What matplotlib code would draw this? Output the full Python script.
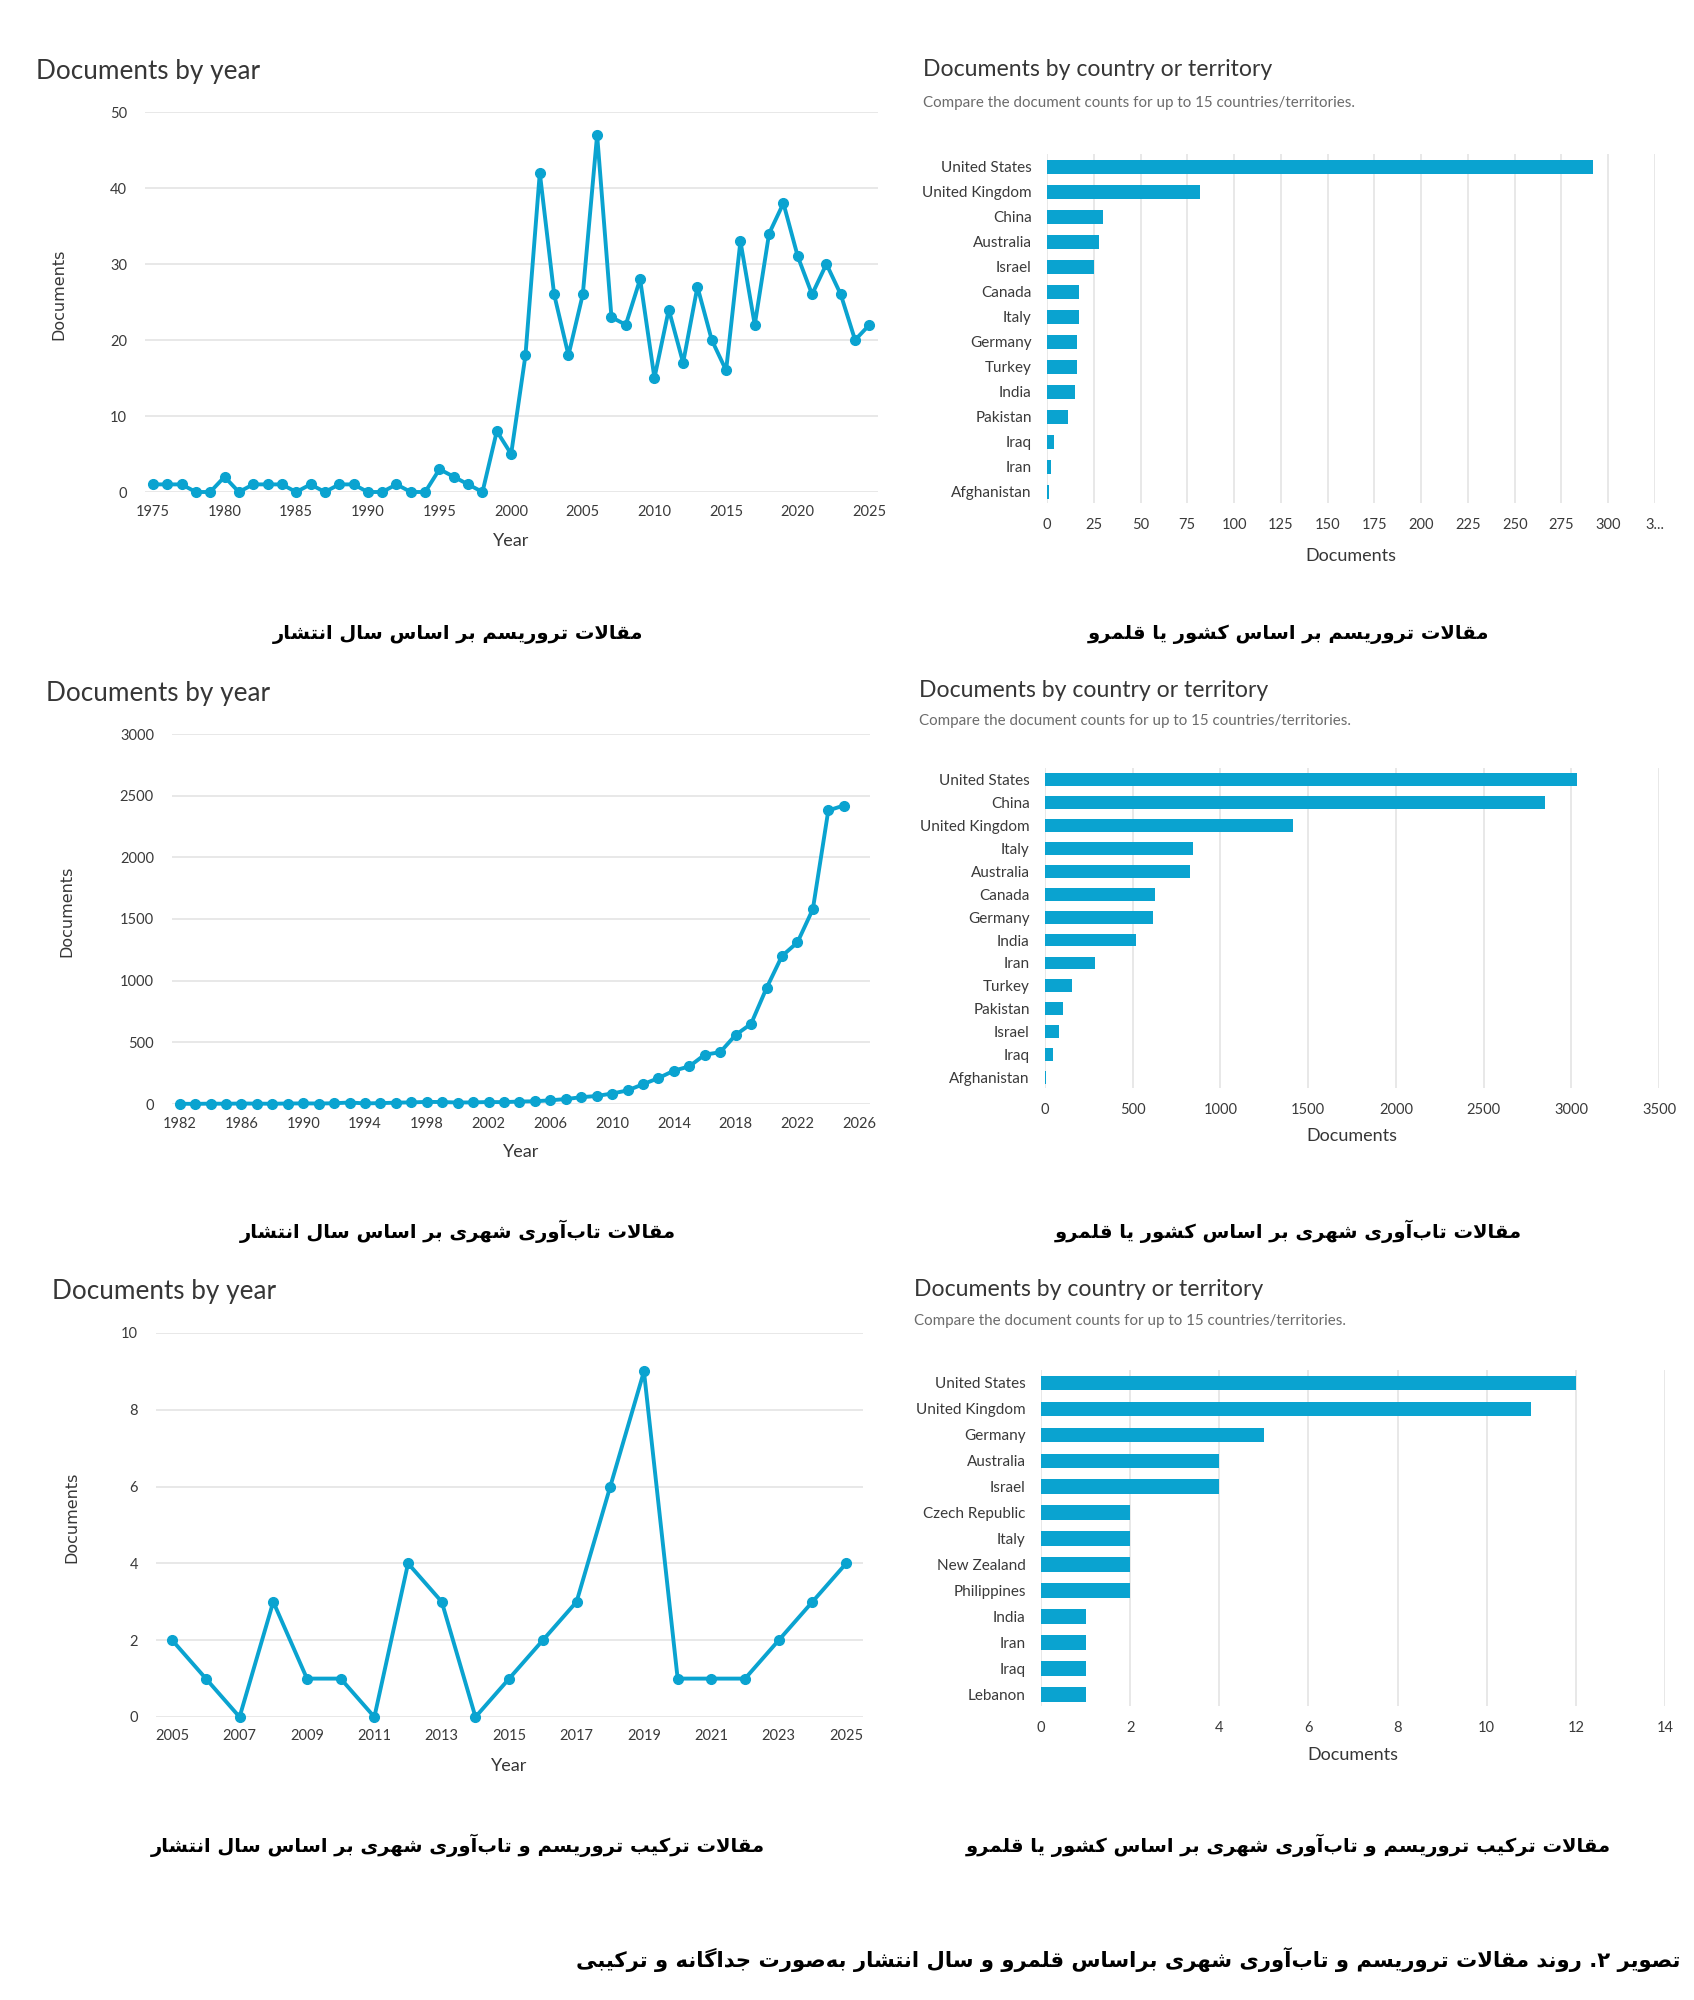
import numpy as np
import matplotlib.pyplot as plt

# ---------------- data ----------------
years_terror = list(range(1975, 2026))
docs_terror = [1, 1, 1, 0, 0, 2, 0, 1, 1, 1, 0, 1, 0, 1, 1, 0, 0, 1, 0, 0, 3, 2, 1, 0,
               8, 5, 18, 42, 26, 18, 26, 47, 23, 22, 28, 15, 24, 17, 27, 20, 16, 33, 22,
               34, 38, 31, 26, 30, 26, 20, 22]

countries_terror = ['United States', 'United Kingdom', 'China', 'Australia', 'Israel',
                    'Canada', 'Italy', 'Germany', 'Turkey', 'India', 'Pakistan', 'Iraq',
                    'Iran', 'Afghanistan']
counts_terror = [292, 82, 30, 28, 25, 17, 17, 16, 16, 15, 11, 4, 2, 1]

years_resil = list(range(1982, 2026))
docs_resil = [2, 1, 3, 2, 4, 3, 2, 4, 5, 4, 6, 12, 5, 7, 11, 13, 17, 16, 12, 13, 16, 15,
              20, 22, 30, 40, 55, 65, 85, 110, 160, 210, 270, 305, 400, 420, 560, 650,
              940, 1200, 1310, 1580, 2380, 2420]

countries_resil = ['United States', 'China', 'United Kingdom', 'Italy', 'Australia',
                   'Canada', 'Germany', 'India', 'Iran', 'Turkey', 'Pakistan', 'Israel',
                   'Iraq', 'Afghanistan']
counts_resil = [3030, 2850, 1415, 845, 825, 628, 615, 520, 285, 155, 100, 77, 48, 7]

years_both = list(range(2005, 2026))
docs_both = [2, 1, 0, 3, 1, 1, 0, 4, 3, 0, 1, 2, 3, 6, 9, 1, 1, 1, 2, 3, 4]

countries_both = ['United States', 'United Kingdom', 'Germany', 'Australia', 'Israel',
                  'Czech Republic', 'Italy', 'New Zealand', 'Philippines', 'India',
                  'Iran', 'Iraq', 'Lebanon']
counts_both = [12, 11, 5, 4, 4, 2, 2, 2, 2, 1, 1, 1, 1]

captions = [
    'مقالات تروریسم بر اساس سال انتشار',
    'مقالات تروریسم بر اساس کشور یا قلمرو',
    'مقالات تاب\u200cآوری شهری بر اساس سال انتشار',
    'مقالات تاب\u200cآوری شهری بر اساس کشور یا قلمرو',
    'مقالات ترکیب تروریسم و تاب\u200cآوری شهری بر اساس سال انتشار',
    'مقالات ترکیب تروریسم و تاب\u200cآوری شهری بر اساس کشور یا قلمرو',
]
figure_caption = ('تصویر ۲. روند مقالات تروریسم و تاب\u200cآوری شهری براساس قلمرو و سال انتشار '
                  'به\u200cصورت جداگانه و ترکیبی')

# ---------------- simple Persian shaping (matplotlib has no RTL shaping) ----------------
D_FORMS = {
    'ب': (0xFE8F, 0xFE90, 0xFE91, 0xFE92), 'ت': (0xFE95, 0xFE96, 0xFE97, 0xFE98),
    'ج': (0xFE9D, 0xFE9E, 0xFE9F, 0xFEA0), 'س': (0xFEB1, 0xFEB2, 0xFEB3, 0xFEB4),
    'ش': (0xFEB5, 0xFEB6, 0xFEB7, 0xFEB8), 'ص': (0xFEB9, 0xFEBA, 0xFEBB, 0xFEBC),
    'ق': (0xFED5, 0xFED6, 0xFED7, 0xFED8), 'ل': (0xFEDD, 0xFEDE, 0xFEDF, 0xFEE0),
    'م': (0xFEE1, 0xFEE2, 0xFEE3, 0xFEE4), 'ن': (0xFEE5, 0xFEE6, 0xFEE7, 0xFEE8),
    'ه': (0xFEE9, 0xFEEA, 0xFEEB, 0xFEEC), 'ک': (0xFB8E, 0xFB8F, 0xFB90, 0xFB91),
    'گ': (0xFB92, 0xFB93, 0xFB94, 0xFB95), 'ی': (0xFBFC, 0xFBFD, 0xFBFE, 0xFBFF),
}
R_FORMS = {'ا': (0xFE8D, 0xFE8E), 'آ': (0xFE81, 0xFE82), 'د': (0xFEA9, 0xFEAA),
           'ر': (0xFEAD, 0xFEAE), 'ز': (0xFEAF, 0xFEB0), 'و': (0xFEED, 0xFEEE)}
LAM_ALEF = {'ا': (0xFEFB, 0xFEFC), 'آ': (0xFEF5, 0xFEF6)}


def shape(text):
    chars = list(text.replace('ي', 'ی').replace('ك', 'ک'))
    n = len(chars)
    out = []
    i = 0
    while i < n:
        c = chars[i]
        prev = chars[i - 1] if i > 0 else ''
        link_prev = prev in D_FORMS and (c in D_FORMS or c in R_FORMS)
        if c == 'ل' and i + 1 < n and chars[i + 1] in LAM_ALEF:
            iso, fin = LAM_ALEF[chars[i + 1]]
            out.append(chr(fin if link_prev else iso))
            i += 2
            continue
        nxt = chars[i + 1] if i + 1 < n else ''
        if c in D_FORMS:
            link_next = nxt in D_FORMS or nxt in R_FORMS
            idx = {(False, False): 0, (True, False): 1, (False, True): 2, (True, True): 3}
            out.append(chr(D_FORMS[c][idx[(link_prev, link_next)]]))
        elif c in R_FORMS:
            out.append(chr(R_FORMS[c][1 if link_prev else 0]))
        elif c != '\u200c':
            out.append(c)
        i += 1
    return ''.join(reversed(out))


# ---------------- style ----------------
W, H = 1694, 2000
BLUE = '#0aa3d0'
GRID = '#e6e6e6'
TXT = '#363636'
plt.rcParams['font.family'] = ['Lato', 'DejaVu Sans']

fig = plt.figure(figsize=(W / 100, H / 100), dpi=100)


def add_ax(l, t, r, b):
    return fig.add_axes([l / W, 1 - b / H, (r - l) / W, (b - t) / H])


def ftext(x, y, s, **kw):
    fig.text(x / W, 1 - y / H, s, **kw)


def line_panel(box, years, docs, xlim, xticks, ymax, ystep, title_xy, ylab_x, year_y):
    ax = add_ax(*box)
    ax.plot(years, docs, color=BLUE, lw=2.8, marker='o', ms=7, clip_on=False, zorder=3)
    ax.set_xlim(*xlim)
    ax.set_ylim(0, ymax)
    ax.set_xticks(xticks)
    ax.set_yticks(np.arange(0, ymax + 1, ystep))
    ax.grid(axis='y', color=GRID, lw=1.3)
    ax.set_axisbelow(True)
    for s in ax.spines.values():
        s.set_visible(False)
    ax.tick_params(axis='both', length=0, labelsize=10.5, colors='#3a3a3a')
    ax.tick_params(axis='x', pad=9)
    ax.tick_params(axis='y', pad=13)
    ftext(title_xy[0], title_xy[1], 'Documents by year', fontsize=18.8, color=TXT,
          va='center', ha='left')
    ftext(ylab_x, (box[1] + box[3]) / 2 - 8, 'Documents', rotation=90, fontsize=11.5,
          color=TXT, va='center', ha='center', family='DejaVu Sans')
    ftext((box[0] + box[2]) / 2, year_y, 'Year', fontsize=13, color=TXT,
          va='center', ha='center')
    return ax


def bar_panel(box, countries, counts, xmax, xticks, xticklabels, title_xy, sub_y, doc_y):
    ax = add_ax(*box)
    y = np.arange(len(countries))
    ax.barh(y, counts, height=0.56, color=BLUE, zorder=3)
    ax.set_ylim(len(countries) - 0.55, -0.5)
    ax.set_xlim(0, xmax)
    ax.set_yticks(y)
    ax.set_yticklabels(countries)
    ax.set_xticks(xticks)
    ax.set_xticklabels(xticklabels)
    ax.grid(axis='x', color=GRID, lw=1.3)
    ax.set_axisbelow(True)
    for s in ax.spines.values():
        s.set_visible(False)
    ax.tick_params(axis='both', length=0, colors='#3a3a3a')
    ax.tick_params(axis='y', labelsize=11, pad=11)
    ax.tick_params(axis='x', labelsize=10.5, pad=11)
    ftext(title_xy[0], title_xy[1], 'Documents by country or territory', fontsize=16.6,
          color=TXT, va='center', ha='left')
    ftext(title_xy[0], sub_y, 'Compare the document counts for up to 15 countries/territories.',
          fontsize=10.9, color='#6b6b6b', va='center', ha='left')
    ftext((box[0] + box[2]) / 2, doc_y, 'Documents', fontsize=13, color=TXT,
          va='center', ha='center')
    return ax


# panel 1: terrorism by year
line_panel((145, 112, 878, 492), years_terror, docs_terror, (1974.45, 2025.6),
           range(1975, 2026, 5), 50, 10, (36, 71), 59, 541)

# panel 2: terrorism by country
t2 = list(range(0, 326, 25))
bar_panel((1047, 154, 1655, 503), countries_terror, counts_terror, 325, t2,
          [str(v) for v in t2[:-1]] + ['3...'], (923, 70), 103, 556)

# panel 3: urban resilience by year
line_panel((172, 734, 870, 1104), years_resil, docs_resil, (1981.5, 2026.7),
           range(1982, 2027, 4), 3000, 500, (46, 693), 67, 1152)

# panel 4: urban resilience by country
t4 = list(range(0, 3501, 500))
bar_panel((1045, 768, 1659, 1088), countries_resil, counts_resil, 3500, t4,
          [str(v) for v in t4], (919, 691), 721, 1136)

# panel 5: combined by year
line_panel((156, 1333, 863, 1717), years_both, docs_both, (2004.52, 2025.5),
           range(2005, 2026, 2), 10, 2, (52, 1291), 72, 1766)

# panel 6: combined by country
t6 = list(range(0, 15, 2))
bar_panel((1041, 1370, 1665, 1706), countries_both, counts_both, 14, t6,
          [str(v) for v in t6], (914, 1289), 1321, 1755)

# Persian captions
cap_pos = [(458, 634), (1288, 634), (458, 1231), (1288, 1231), (458, 1845), (1288, 1845)]
for (cx, cy), cap in zip(cap_pos, captions):
    ftext(cx, cy, shape(cap), fontsize=14, fontweight='bold', family='DejaVu Sans',
          color='black', ha='center', va='center')

ftext(1680, 1960, shape(figure_caption), fontsize=15.2, fontweight='bold',
      family='DejaVu Sans', color='black', ha='right', va='center')

fig.savefig('out.png', dpi=100, facecolor='white')
